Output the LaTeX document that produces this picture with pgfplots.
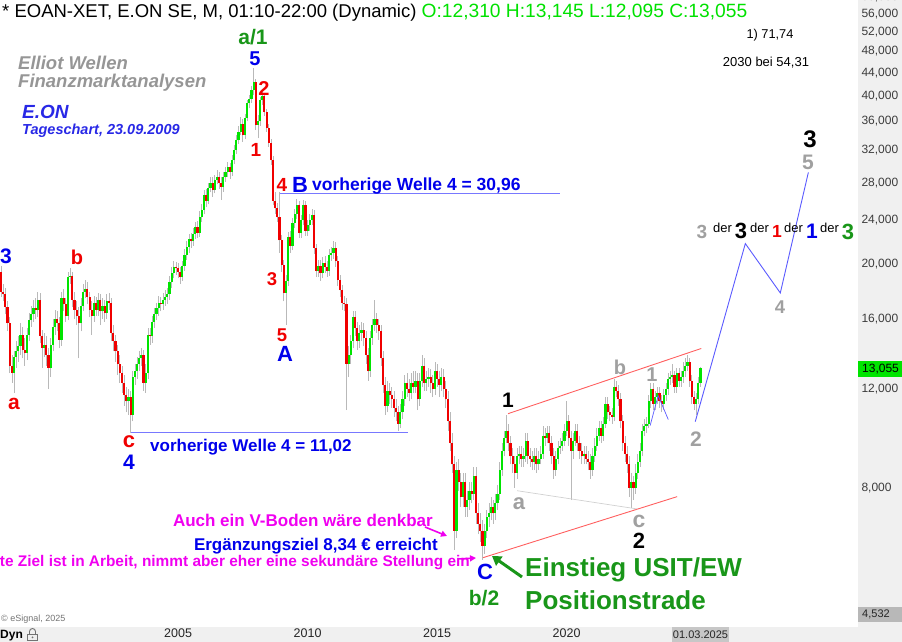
\documentclass[border=0pt]{standalone}
\usepackage{pgfplots}
\pgfplotsset{compat=1.18}
\usepackage{pgfplotstable}
\usepackage{fontspec}
\setmainfont{Liberation Sans}
\usetikzlibrary{arrows.meta}

\definecolor{upgreen}{RGB}{0,228,0}
\definecolor{downred}{RGB}{240,0,0}
\definecolor{wick}{RGB}{185,185,185}
\definecolor{panel}{RGB}{240,240,240}
\definecolor{wavegreen}{RGB}{25,150,25}
\definecolor{waveblue}{RGB}{0,0,235}
\definecolor{wavered}{RGB}{240,0,0}
\definecolor{wavegray}{RGB}{160,160,160}
\definecolor{levelblue}{RGB}{120,120,255}
\definecolor{projblue}{RGB}{90,90,255}
\definecolor{chanred}{RGB}{255,95,95}
\definecolor{pinktext}{RGB}{240,0,240}
\definecolor{titlegreen}{RGB}{0,225,0}
\definecolor{axtext}{RGB}{60,60,60}
\definecolor{logogray}{RGB}{150,150,150}
\definecolor{logoblue}{RGB}{40,40,230}

% monthly candles: i = months since Jan 1998
\pgfplotstableread{
i o h l c
2 19.4 19.9 17.5 17.9
3 17.9 18.5 17.2 17.7
4 17.7 18.2 16.3 16.8
5 16.8 17.2 15.2 15.7
6 15.7 16.1 12.8 13.2
7 13.2 13.8 12.3 12.8
8 12.8 14.0 11.8 13.7
9 13.7 14.6 13.1 14.0
10 14.0 14.9 13.4 14.3
11 14.3 15.7 13.8 15.0
12 15.0 15.5 13.6 14.1
13 14.1 14.8 13.2 13.9
14 13.9 15.4 13.5 15.0
15 15.0 16.4 14.6 15.9
16 15.9 16.9 15.5 16.3
17 16.3 17.3 15.8 16.7
18 16.7 17.4 16.0 16.6
19 16.6 17.9 16.1 17.3
20 17.3 17.8 14.5 14.9
21 14.9 15.3 13.1 14.2
22 14.2 15.1 13.7 14.4
23 14.4 14.9 13.2 13.8
24 13.8 14.2 12.0 13.1
25 13.1 14.8 12.6 14.4
26 14.4 16.0 14.0 15.5
27 15.5 16.6 15.0 16.0
28 16.0 16.5 15.2 15.7
29 15.7 16.1 14.2 14.7
30 14.7 17.9 14.3 17.4
31 17.4 18.1 16.5 17.0
32 17.0 17.4 15.8 16.2
33 16.2 19.4 15.9 19.0
34 19.0 19.7 18.5 19.1
35 19.1 19.4 16.8 17.3
36 17.3 17.9 16.0 16.6
37 16.6 17.2 15.6 16.2
38 16.2 16.8 13.6 15.7
39 15.7 17.4 15.2 16.9
40 16.9 18.5 16.5 17.9
41 17.9 18.8 17.4 18.1
42 18.1 18.6 17.0 17.5
43 17.5 17.9 16.1 16.6
44 16.6 17.2 15.0 16.2
45 16.2 17.6 15.8 17.1
46 17.1 17.5 16.2 16.6
47 16.6 17.8 16.2 17.3
48 17.3 17.7 15.6 16.5
49 16.5 17.4 16.0 16.9
50 16.9 17.3 15.8 16.4
51 16.4 17.7 16.0 17.2
52 17.2 17.8 16.6 17.1
53 17.1 17.4 14.6 15.1
54 15.1 15.6 14.0 14.6
55 14.6 15.0 13.4 14.0
56 14.0 14.4 12.7 13.3
57 13.3 13.8 12.3 12.8
58 12.8 13.2 11.8 12.3
59 12.3 12.7 11.2 11.7
60 11.7 12.1 10.9 11.4
61 11.4 12.0 10.8 11.6
62 11.6 11.9 10.0 10.8
63 10.8 12.9 10.5 12.6
64 12.6 13.3 12.2 12.9
65 12.9 13.7 12.5 13.3
66 13.3 14.0 12.9 13.6
67 13.6 14.2 13.2 13.8
68 13.8 14.1 11.9 12.3
69 12.3 13.3 11.8 12.8
70 12.8 15.4 12.5 15.0
71 15.0 15.4 14.4 14.9
72 14.9 16.2 14.5 15.8
73 15.8 16.7 15.4 16.3
74 16.3 17.1 15.9 16.7
75 16.7 17.6 16.2 17.1
76 17.1 17.5 16.5 17.0
77 17.0 17.8 16.6 17.3
78 17.3 18.0 16.9 17.5
79 17.5 18.2 17.0 17.7
80 17.7 19.1 17.3 18.6
81 18.6 19.8 18.2 19.3
82 19.3 20.3 18.9 19.8
83 19.8 20.2 19.2 19.7
84 19.7 20.1 18.9 19.4
85 19.4 19.8 18.5 19.0
86 19.0 20.3 18.7 19.9
87 19.9 21.3 19.5 20.8
88 20.8 22.0 20.4 21.5
89 21.5 22.7 21.0 22.2
90 22.2 22.8 21.4 22.0
91 22.0 23.2 21.6 22.7
92 22.7 23.8 22.2 23.3
93 23.3 23.9 22.3 22.8
94 22.8 24.9 22.4 24.3
95 24.3 25.6 23.8 25.0
96 25.0 27.2 24.6 26.6
97 26.6 27.3 25.3 26.0
98 26.0 28.0 25.6 27.4
99 27.4 28.7 26.9 28.0
100 28.0 28.6 26.4 27.2
101 27.2 28.9 26.8 28.3
102 28.3 29.5 27.8 28.7
103 28.7 29.3 27.3 28.0
104 28.0 28.6 26.1 27.5
105 27.5 29.2 27.0 28.6
106 28.6 29.9 28.1 29.2
107 29.2 30.5 28.7 29.8
108 29.8 30.4 28.4 29.3
109 29.3 31.4 28.8 30.7
110 30.7 32.7 30.2 32.0
111 32.0 34.0 31.5 33.3
112 33.3 35.3 32.8 34.5
113 34.5 36.6 34.0 35.7
114 35.7 36.4 33.1 34.0
115 34.0 37.2 33.5 36.5
116 36.5 39.3 36.0 38.8
117 38.8 40.2 38.0 39.5
118 39.5 41.7 38.9 41.0
119 41.0 44.9 40.2 42.3
120 42.3 42.8 34.8 35.5
121 35.5 36.9 33.6 36.0
122 36.0 39.8 35.4 39.3
123 39.3 40.6 38.6 39.9
124 39.9 40.4 36.8 37.4
125 37.4 37.9 34.5 35.1
126 35.1 35.6 32.4 33.0
127 33.0 33.5 30.1 30.7
128 30.7 31.2 25.5 26.0
129 26.0 27.0 24.6 25.2
130 25.2 25.8 23.8 24.3
131 24.3 26.9 21.0 22.1
132 22.1 22.6 19.4 20.0
133 20.0 20.4 17.2 17.8
134 17.8 19.2 15.6 18.7
135 18.7 22.9 18.3 22.4
136 22.4 23.0 21.0 21.6
137 21.6 24.2 21.2 23.7
138 23.7 25.1 23.2 24.6
139 24.6 26.2 24.1 25.5
140 25.5 26.0 22.3 22.8
141 22.8 24.5 22.3 24.0
142 24.0 26.1 23.5 25.5
143 25.5 26.0 22.5 23.0
144 23.0 24.0 22.5 23.5
145 23.5 24.6 23.0 24.0
146 24.0 25.1 23.5 24.5
147 24.5 25.0 20.9 21.4
148 21.4 21.8 19.0 19.5
149 19.5 20.4 19.0 19.9
150 19.9 20.4 18.7 19.3
151 19.3 20.6 18.9 20.1
152 20.1 20.7 19.3 19.8
153 19.8 20.3 19.0 19.5
154 19.5 21.3 19.1 20.8
155 20.8 21.5 20.3 21.0
156 21.0 22.0 20.5 21.4
157 21.4 21.9 19.8 20.3
158 20.3 20.7 18.3 18.8
159 18.8 19.2 17.5 18.0
160 18.0 18.4 16.6 17.1
161 17.1 17.6 16.5 17.0
162 17.0 17.4 11.0 13.3
163 13.3 14.3 12.6 13.8
164 13.8 15.0 13.3 14.6
165 14.6 16.5 14.2 16.1
166 16.1 16.5 14.9 15.4
167 15.4 15.8 14.1 14.6
168 14.6 15.6 14.2 15.1
169 15.1 15.8 14.6 15.3
170 15.3 15.7 14.3 14.8
171 14.8 15.2 13.3 13.8
172 13.8 14.2 12.4 12.9
173 12.9 15.2 12.6 14.8
174 14.8 16.0 14.4 15.6
175 15.6 17.3 15.2 16.0
176 16.0 16.4 15.1 15.6
177 15.6 16.0 14.7 15.2
178 15.2 15.6 13.2 13.6
179 13.6 14.0 11.8 12.2
180 12.2 12.6 10.8 11.2
181 11.2 12.4 10.9 11.9
182 11.9 12.3 11.3 11.7
183 11.7 12.1 11.1 11.5
184 11.5 11.9 10.7 11.1
185 11.1 11.5 10.5 10.9
186 10.9 11.2 10.1 10.4
187 10.4 11.3 10.2 10.9
188 10.9 11.9 10.6 11.5
189 11.5 12.7 11.2 12.3
190 12.3 12.8 11.6 12.0
191 12.0 12.5 11.4 11.8
192 11.8 12.8 11.5 12.3
193 12.3 12.9 11.8 12.1
194 12.1 12.9 11.8 12.4
195 12.4 12.8 11.0 11.5
196 11.5 12.8 11.2 12.4
197 12.4 13.8 12.1 13.2
198 13.2 13.6 11.9 12.3
199 12.3 12.9 11.9 12.5
200 12.5 13.1 12.1 12.6
201 12.6 13.0 11.8 12.3
202 12.3 12.7 11.6 12.0
203 12.0 13.4 11.7 12.9
204 12.9 13.3 12.1 12.5
205 12.5 12.9 11.6 12.2
206 12.2 13.1 11.9 12.6
207 12.6 13.0 11.6 12.0
208 12.0 12.4 11.1 11.5
209 11.5 11.9 10.1 10.5
210 10.5 10.9 9.3 9.6
211 9.6 10.0 8.5 8.8
212 8.8 9.1 6.2 6.7
213 6.7 8.9 6.5 8.6
214 8.6 9.0 7.9 8.2
215 8.2 8.5 7.4 7.7
216 7.7 8.5 7.4 8.2
217 8.2 8.5 7.1 7.4
218 7.4 7.9 7.1 7.6
219 7.6 8.2 7.3 7.9
220 7.9 8.2 7.5 7.8
221 7.8 8.7 7.6 8.4
222 8.4 8.7 6.9 7.2
223 7.2 7.5 6.6 6.9
224 6.9 7.2 6.4 6.7
225 6.7 7.0 5.95 6.3
226 6.3 6.9 6.1 6.7
227 6.7 7.3 6.5 7.1
228 7.1 7.5 6.8 7.2
229 7.2 7.7 7.0 7.4
230 7.4 7.6 6.9 7.2
231 7.2 7.8 7.0 7.5
232 7.5 8.1 7.3 7.8
233 7.8 8.9 7.6 8.6
234 8.6 9.6 8.4 9.3
235 9.3 10.1 9.1 9.8
236 9.8 10.8 9.6 10.1
237 10.1 10.4 9.3 9.6
238 9.6 9.9 8.8 9.1
239 9.1 9.4 8.5 8.8
240 8.8 9.1 8.0 8.5
241 8.5 9.4 8.3 9.1
242 9.1 9.5 8.8 9.2
243 9.2 9.5 8.7 9.0
244 9.0 9.4 8.7 9.1
245 9.1 10.0 8.9 9.7
246 9.7 10.0 8.8 9.1
247 9.1 9.4 8.7 9.0
248 9.0 9.3 8.6 8.9
249 8.9 9.4 8.6 9.1
250 9.1 9.4 8.5 8.8
251 8.8 9.3 8.6 9.0
252 9.0 9.5 8.8 9.2
253 9.2 10.3 9.0 9.9
254 9.9 10.2 9.5 9.8
255 9.8 10.3 9.6 10.0
256 10.0 10.3 9.3 9.6
257 9.6 9.9 8.8 9.1
258 9.1 9.4 8.3 8.6
259 8.6 9.3 8.4 9.0
260 9.0 9.7 8.8 9.4
261 9.4 9.8 9.2 9.5
262 9.5 10.0 9.3 9.7
263 9.7 10.4 9.5 10.1
264 10.1 11.4 9.9 10.5
265 10.5 10.8 9.5 9.8
266 9.8 10.1 7.6 9.3
267 9.3 10.0 9.0 9.7
268 9.7 10.4 9.5 10.1
269 10.1 10.4 9.3 9.6
270 9.6 9.9 9.0 9.3
271 9.3 9.6 8.8 9.1
272 9.1 9.5 8.8 9.2
273 9.2 9.5 8.8 9.0
274 9.0 9.3 8.6 8.9
275 8.9 9.2 8.3 8.6
276 8.6 9.4 8.4 9.1
277 9.1 9.8 8.9 9.5
278 9.5 10.2 9.3 9.9
279 9.9 10.5 9.7 10.2
280 10.2 10.5 9.6 9.9
281 9.9 10.7 9.7 10.4
282 10.4 11.6 10.2 11.3
283 11.3 11.6 10.6 10.9
284 10.9 11.2 10.5 10.8
285 10.8 11.1 10.4 10.7
286 10.7 12.5 10.5 12.1
287 12.1 12.4 11.6 11.9
288 11.9 12.2 11.2 11.5
289 11.5 11.8 10.2 10.5
290 10.5 10.8 9.3 9.6
291 9.6 9.9 8.9 9.2
292 9.2 9.5 8.5 8.8
293 8.8 9.1 7.7 8.0
294 8.0 8.5 7.35 8.2
295 8.2 8.4 7.6 8.0
296 8.0 8.8 7.8 8.5
297 8.5 9.2 8.3 8.9
298 8.9 9.6 8.7 9.3
299 9.3 10.4 9.1 10.1
300 10.1 10.6 9.9 10.3
301 10.3 10.7 10.0 10.4
302 10.4 11.7 10.2 11.4
303 11.4 12.3 11.1 12.0
304 12.0 12.3 11.0 11.3
305 11.3 11.9 11.0 11.6
306 11.6 12.1 11.3 11.8
307 11.8 12.1 11.1 11.4
308 11.4 11.7 10.9 11.3
309 11.3 12.0 11.0 11.7
310 11.7 12.3 11.4 12.0
311 12.0 12.8 11.7 12.5
312 12.5 12.9 12.2 12.6
313 12.6 13.3 12.3 12.7
314 12.7 12.9 11.8 12.1
315 12.1 13.1 11.8 12.8
316 12.8 13.1 12.1 12.4
317 12.4 12.9 12.1 12.6
318 12.6 13.4 12.3 12.9
319 12.9 13.6 12.6 13.2
320 13.2 13.8 12.9 13.4
321 13.4 13.6 12.1 12.4
322 12.4 12.7 11.3 11.6
323 11.6 11.9 11.0 11.3
324 11.3 11.8 10.8 11.5
325 11.5 12.6 11.3 12.31
326 12.31 13.145 12.095 13.055
}\eon

\newcommand{\wl}[4]{\node[inner sep=0pt, text=#1, font=\fontsize{#2}{#2}\selectfont\bfseries] at #3 {#4};}

\begin{document}
\begin{tikzpicture}[x=1pt,y=1pt]
\useasboundingbox (0,0) rectangle (902,642);
\clip (0,0) rectangle (902,642);
% price scale panel and time band
\fill[panel] (857.5,0) rectangle (902,642);
\fill[panel] (0,0) rectangle (902,15);

\begin{axis}[
  at={(0pt,17pt)}, anchor=south west, scale only axis,
  width=858pt, height=625pt,
  xmin=1.5, xmax=399,
  ymode=log, ymin=4.55, ymax=59.3,
  axis line style={draw=none},
  major tick length=0pt, tick style={draw=none},
  xtick={84,144,204,264}, xticklabels={2005,2010,2015,2020},
  xticklabel style={font=\fontsize{12.5}{14}\selectfont, text=black!85},
  ytick={8,12,16,20,24,28,32,36,40,44,48,52,56},
  yticklabels={{8,000},{12,000},{16,000},{20,000},{24,000},{28,000},{32,000},{36,000},{40,000},{44,000},{48,000},{52,000},{56,000}},
  yticklabel pos=right,
  yticklabel style={anchor=west, font=\fontsize{12}{13}\selectfont, text=axtext},
]
% level lines
\addplot[levelblue, line width=1.3pt] coordinates {(131.3,26.8) (261,26.8)};
\addplot[levelblue, line width=1.3pt] coordinates {(61.8,10.02) (190.6,10.02)};
% wicks
\addplot[draw=none, mark=none,
  error bars/.cd, y dir=plus, y explicit, error mark=none,
  error bar style={draw=wick, line width=0.7pt}]
  table[x=i, y=l, y error expr=\thisrow{h}-\thisrow{l}] {\eon};
% rising bodies
\addplot[draw=none, mark=none,
  restrict expr to domain={\thisrow{c}-\thisrow{o}}{0:1000},
  error bars/.cd, y dir=plus, y explicit, error mark=none,
  error bar style={draw=upgreen, line width=2.15pt}]
  table[x=i, y=o, y error expr=\thisrow{c}-\thisrow{o}] {\eon};
% falling bodies
\addplot[draw=none, mark=none,
  restrict expr to domain={\thisrow{c}-\thisrow{o}}{-1000:-0.0001},
  error bars/.cd, y dir=plus, y explicit, error mark=none,
  error bar style={draw=downred, line width=2.15pt}]
  table[x=i, y=c, y error expr=\thisrow{o}-\thisrow{c}] {\eon};
% trend channel and wave projection
\addplot[chanred, line width=0.9pt] coordinates {(236.9,10.84) (326.4,14.17)};
\addplot[chanred, line width=0.9pt] coordinates {(225.3,6.00) (315.2,7.71)};
\addplot[black!18, line width=0.7pt] coordinates {(241.1,7.90) (296.7,7.33)};
\addplot[projblue, line width=0.9pt] coordinates {(323.6,10.49) (346.8,21.8) (363.0,17.8) (376.0,29.2)};
\addplot[projblue, line width=0.7pt] coordinates {(302.7,10.32) (306.4,11.68) (311.1,10.58)};
\end{axis}

% price scale boxes
\node[anchor=west, inner sep=3.8pt, font=\fontsize{12}{13}\selectfont, text=axtext] at (857.5,644.7) {60,000};
\fill[upgreen] (857.5,265) rectangle (902,281);
\node[anchor=west, inner sep=0pt, font=\fontsize{12}{13}\selectfont] at (862,273) {13,055};
\fill[black!28] (857.5,20) rectangle (902,35);
\node[anchor=west, inner sep=0pt, font=\fontsize{11}{12}\selectfont, text=black!85] at (862,27.5) {4,532};
% time band
\fill[black!22] (672,0) rectangle (729,15);
\node[inner sep=0pt, font=\fontsize{11}{12}\selectfont, text=black!85] at (700.5,7.5) {01.03.2025};
\node[anchor=base west, inner sep=0pt, font=\fontsize{12}{13}\selectfont\bfseries] at (0,3) {Dyn};
\draw[black!55, line width=0.9pt] (29.5,8) -- (29.5,10.5) arc[start angle=180, end angle=0, radius=3] -- (35.5,8);
\draw[black!55, line width=0.8pt, fill=panel] (27.5,1.5) rectangle (37.5,8);
\fill[black!55] (32.5,4.7) circle (1pt);
\node[anchor=base west, inner sep=0pt, font=\fontsize{9}{10}\selectfont, text=black!55] at (1,20) {\textcopyright{} eSignal, 2025};

% header
\node[anchor=base west, inner sep=0pt, font=\fontsize{18.5}{20}\selectfont] at (2,624)
  {* EOAN-XET, E.ON SE, M, 01:10-22:00 (Dynamic) \textcolor{titlegreen}{\fontsize{19.2}{20}\selectfont O:12,310 H:13,145 L:12,095 C:13,055}};
\node[anchor=base, inner sep=0pt, font=\fontsize{12.8}{14}\selectfont] at (770,603) {1) 71,74};
\node[anchor=base, inner sep=0pt, font=\fontsize{13}{14}\selectfont] at (766,575) {2030 bei 54,31};

% logo
\begin{scope}[font=\fontsize{18.5}{20}\selectfont\bfseries\itshape]
\node[anchor=base west, inner sep=0pt, text=logogray] at (18,572) {Elliot Wellen};
\node[anchor=base west, inner sep=0pt, text=logogray] at (18,554) {Finanzmarktanalysen};
\end{scope}
\node[anchor=base west, inner sep=0pt, font=\fontsize{19}{20}\selectfont\bfseries\itshape, text=logoblue] at (22,523.5) {E.ON};
\node[anchor=base west, inner sep=0pt, font=\fontsize{14.5}{16}\selectfont\bfseries\itshape, text=logoblue] at (22,507.5) {Tageschart, 23.09.2009};

% wave labels
\wl{wavegreen}{21}{(253,604.5)}{a/1}
\wl{waveblue}{20}{(255,583)}{5}
\wl{wavered}{20}{(264,553)}{2}
\wl{wavered}{19}{(256,492)}{1}
\wl{wavered}{19}{(282,457)}{4}
\wl{waveblue}{22}{(300,457)}{B}
\wl{wavered}{18.5}{(272,363)}{3}
\wl{wavered}{18.5}{(282,307)}{5}
\wl{waveblue}{22}{(285,288)}{A}
\wl{waveblue}{21}{(6,386)}{3}
\wl{wavered}{20}{(77,385)}{b}
\wl{wavered}{21}{(14,238)}{a}
\wl{wavered}{22}{(129,200)}{c}
\wl{waveblue}{21}{(129,180)}{4}
\wl{black}{21}{(508,242)}{1}
\wl{wavegray}{22}{(519,138)}{a}
\wl{wavegray}{20}{(620,275)}{b}
\wl{wavegray}{20}{(652,267)}{1}
\wl{wavegray}{23}{(639,121)}{c}
\wl{black}{22}{(639,101)}{2}
\wl{wavegray}{21}{(696,203)}{2}
\wl{waveblue}{22}{(485,70)}{C}
\wl{wavegreen}{21}{(484,44)}{b/2}
\wl{black}{24}{(810,503)}{3}
\wl{wavegray}{21}{(808,480)}{5}
\wl{wavegray}{18.5}{(780,335)}{4}

% degree chain
\node[anchor=base, inner sep=0pt, font=\fontsize{19}{20}\selectfont\bfseries, text=wavegray] at (702,403) {3};
\node[anchor=base west, inner sep=0pt, font=\fontsize{13}{14}\selectfont] at (713,409) {der};
\node[anchor=base, inner sep=0pt, font=\fontsize{22}{24}\selectfont\bfseries] at (741,403) {3};
\node[anchor=base west, inner sep=0pt, font=\fontsize{13}{14}\selectfont] at (750,409) {der};
\node[anchor=base, inner sep=0pt, font=\fontsize{17.5}{19}\selectfont\bfseries, text=wavered] at (777,404) {1};
\node[anchor=base west, inner sep=0pt, font=\fontsize{13}{14}\selectfont] at (784,409) {der};
\node[anchor=base, inner sep=0pt, font=\fontsize{21}{22}\selectfont\bfseries, text=waveblue] at (812,403) {1};
\node[anchor=base west, inner sep=0pt, font=\fontsize{13}{14}\selectfont] at (820,409) {der};
\node[anchor=base, inner sep=0pt, font=\fontsize{22}{24}\selectfont\bfseries, text=wavegreen] at (848,402) {3};

% level texts
\node[anchor=base west, inner sep=0pt, font=\fontsize{17.5}{19}\selectfont\bfseries, text=waveblue] at (312,451) {vorherige Welle 4 = 30,96};
\node[anchor=base west, inner sep=0pt, font=\fontsize{17}{19}\selectfont\bfseries, text=waveblue] at (150,190) {vorherige Welle 4 = 11,02};

% comments near the low
\node[anchor=base east, inner sep=0pt, font=\fontsize{17}{19}\selectfont\bfseries, text=pinktext] at (433,115) {Auch ein V-Boden wäre denkbar};
\node[anchor=base east, inner sep=0pt, font=\fontsize{17}{19}\selectfont\bfseries, text=waveblue] at (438,91) {Ergänzungsziel 8,34 € erreicht};
\node[anchor=base east, inner sep=0pt, font=\fontsize{15.4}{17}\selectfont\bfseries, text=pinktext] at (470,75) {te Ziel ist in Arbeit, nimmt aber eher eine sekundäre Stellung ein};
\draw[pinktext, line width=1.6pt, -{Triangle[length=6pt,width=6pt]}] (425,115) -- (447,106);
\draw[pinktext, line width=1.6pt, -{Triangle[length=6pt,width=6pt]}] (458,83) -- (476,84);

% entry note
\draw[wavegreen, line width=3pt, -{Triangle[length=9pt,width=11pt]}] (522,65) -- (492,86);
\node[anchor=base west, inner sep=0pt, font=\fontsize{26}{28}\selectfont\bfseries, text=wavegreen] at (525,65) {Einstieg USIT/EW};
\node[anchor=base west, inner sep=0pt, font=\fontsize{26}{28}\selectfont\bfseries, text=wavegreen] at (525,32) {Positionstrade};
\end{tikzpicture}
\end{document}
